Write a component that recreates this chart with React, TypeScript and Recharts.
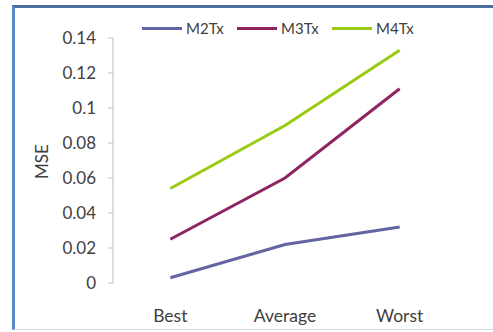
import { Line, LineChart, XAxis, YAxis } from "recharts";

const categories = ["Best", "Average", "Worst"];
const m2tx = [0.003, 0.022, 0.032];
const m3tx = [0.025, 0.06, 0.111];
const m4tx = [0.054, 0.09, 0.133];
const yTicks = [0, 0.02, 0.04, 0.06, 0.08, 0.1, 0.12, 0.14];

const series = [
  { key: "M2Tx", color: "#6464a4" },
  { key: "M3Tx", color: "#8e2560" },
  { key: "M4Tx", color: "#99cc11" },
];

// x sits in the middle of each category slot so the tick marks fall on the boundaries
const data = categories.map((name, i) => ({
  name,
  x: i + 0.5,
  M2Tx: m2tx[i],
  M3Tx: m3tx[i],
  M4Tx: m4tx[i],
}));

const font = "Lato, 'Open Sans', sans-serif";
const axisGray = "#bdbdbd";
const textGray = "#404040";

const App = () => {
  return (
    <div style={{ position: "absolute", left: 0, top: 0, width: 493, height: 332, background: "#fff" }}>
      <div
        style={{
          position: "absolute",
          left: 12,
          top: 5,
          width: 490,
          height: 325,
          borderLeft: "3px solid #5b88c6",
          borderTop: "3px solid #4a6f9f",
          borderBottom: "1px solid #d8d8d8",
          boxSizing: "border-box",
        }}
      />
      <div
        style={{
          position: "absolute",
          left: 24,
          top: 151,
          transform: "rotate(-90deg)",
          transformOrigin: "center",
          fontFamily: font,
          fontSize: 17,
          color: textGray,
        }}
      >
        MSE
      </div>
      <div
        style={{
          position: "absolute",
          left: 142,
          top: 19,
          display: "flex",
          fontFamily: font,
          fontSize: 15,
          color: textGray,
        }}
      >
        {series.map((s) => (
          <div key={s.key} style={{ display: "flex", alignItems: "center", width: 95 }}>
            <div style={{ width: 40, height: 3, background: s.color, marginRight: 4 }} />
            <span>{s.key}</span>
          </div>
        ))}
      </div>
      <LineChart
        width={493}
        height={332}
        data={data}
        margin={{ top: 38, right: 36, left: 53, bottom: 19 }}
        style={{ position: "absolute", left: 0, top: 0 }}
      >
        <XAxis
          xAxisId="slots"
          dataKey="x"
          type="number"
          domain={[0, 3]}
          ticks={[0, 1, 2, 3]}
          tickFormatter={() => ""}
          height={0}
          stroke={axisGray}
          tickSize={5}
        />
        <XAxis
          xAxisId="names"
          dataKey="name"
          type="category"
          scale="band"
          axisLine={false}
          tickLine={false}
          height={30}
          tickSize={0}
          tickMargin={27}
          tick={{ fill: textGray, fontSize: 17.5, fontFamily: font }}
        />
        <YAxis
          domain={[0, 0.14]}
          ticks={yTicks}
          width={60}
          stroke={axisGray}
          tickSize={5}
          tickMargin={12}
          tick={{ fill: textGray, fontSize: 17, fontFamily: font }}
        />
        {series.map((s) => (
          <Line
            key={s.key}
            xAxisId="slots"
            dataKey={s.key}
            stroke={s.color}
            strokeWidth={3}
            dot={false}
            isAnimationActive={false}
          />
        ))}
      </LineChart>
    </div>
  );
};

export default App;
